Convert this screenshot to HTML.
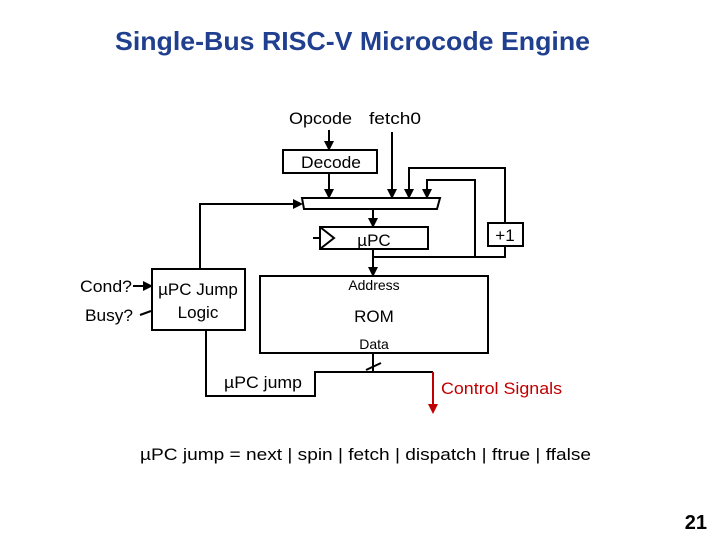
<!DOCTYPE html>
<html><head><style>
body{margin:0;width:720px;height:540px;background:#fff;overflow:hidden}
svg text{font-family:"Liberation Sans",sans-serif}
</style></head><body>
<svg width="720" height="540" viewBox="0 0 720 540">
<defs><marker id="a" markerWidth="5" markerHeight="5" refX="4" refY="2.5" orient="auto"><path d="M0,0L5,2.5L0,5z" fill="#000"/></marker>
<marker id="r" markerWidth="5" markerHeight="5" refX="4" refY="2.5" orient="auto"><path d="M0,0L5,2.5L0,5z" fill="#c00000"/></marker></defs>
<text x="115" y="50" textLength="475" lengthAdjust="spacingAndGlyphs" font-size="26" font-weight="bold" fill="#203f8f">Single-Bus RISC-V Microcode Engine</text>
<g stroke="#000" stroke-width="2" fill="none">
<line x1="329" y1="130" x2="329" y2="149" marker-end="url(#a)"/>
<rect x="283" y="150" width="94" height="23"/>
<line x1="329" y1="173" x2="329" y2="197" marker-end="url(#a)"/>
<line x1="392" y1="132" x2="392" y2="197" marker-end="url(#a)"/>
<polyline points="505,223 505,168 409,168 409,197" marker-end="url(#a)"/>
<polyline points="475,257 475,180 427,180 427,197" marker-end="url(#a)"/>
<polygon points="302,198 440,198 437,209 304,209"/>
<line x1="373" y1="209" x2="373" y2="226" marker-end="url(#a)"/>
<rect x="320" y="227" width="108" height="22"/>
<polyline points="320,227 334,238 320,249"/>
<line x1="313" y1="238" x2="320" y2="238"/>
<rect x="488" y="223" width="35" height="23"/>
<polyline points="373,249 373,257 505,257 505,246"/>
<line x1="373" y1="257" x2="373" y2="275" marker-end="url(#a)"/>
<rect x="260" y="276" width="228" height="77"/>
<rect x="152" y="269" width="93" height="61"/>
<polyline points="200,269 200,204 301,204" marker-end="url(#a)"/>
<line x1="133" y1="286" x2="151" y2="286" marker-end="url(#a)"/>
<line x1="140" y1="315" x2="151" y2="311"/>
<line x1="373" y1="353" x2="373" y2="372"/>
<line x1="366" y1="370" x2="381" y2="363"/>
<polyline points="206,330 206,396 315,396 315,372 433,372"/>
<line x1="433" y1="372" x2="433" y2="412" stroke="#c00000" marker-end="url(#r)"/>
</g>
<g font-size="17" fill="#000">
<text x="289" y="124" textLength="63" lengthAdjust="spacingAndGlyphs">Opcode</text><text x="369" y="124" textLength="52" lengthAdjust="spacingAndGlyphs">fetch0</text>
<text x="301" y="168" textLength="60" lengthAdjust="spacingAndGlyphs">Decode</text>
<text x="374" y="246" text-anchor="middle">µPC</text>
<text x="505" y="241" text-anchor="middle">+1</text>
<text x="80" y="292" textLength="52" lengthAdjust="spacingAndGlyphs">Cond?</text><text x="85" y="321" textLength="48" lengthAdjust="spacingAndGlyphs">Busy?</text>
<text x="198" y="295" text-anchor="middle">µPC Jump</text>
<text x="198" y="318" text-anchor="middle">Logic</text>
<text x="374" y="290" text-anchor="middle" font-size="14">Address</text>
<text x="374" y="322" text-anchor="middle">ROM</text>
<text x="374" y="349" text-anchor="middle" font-size="14">Data</text>
<text x="224" y="388" textLength="78" lengthAdjust="spacingAndGlyphs">µPC jump</text>
<text x="441" y="394" fill="#c00000" textLength="121" lengthAdjust="spacingAndGlyphs">Control Signals</text>
<text x="140" y="460" textLength="451" lengthAdjust="spacingAndGlyphs">µPC jump = next | spin | fetch | dispatch | ftrue | ffalse</text>
<text x="707" y="529" text-anchor="end" font-size="20" font-weight="bold">21</text>
</g>
</svg>
</body></html>
